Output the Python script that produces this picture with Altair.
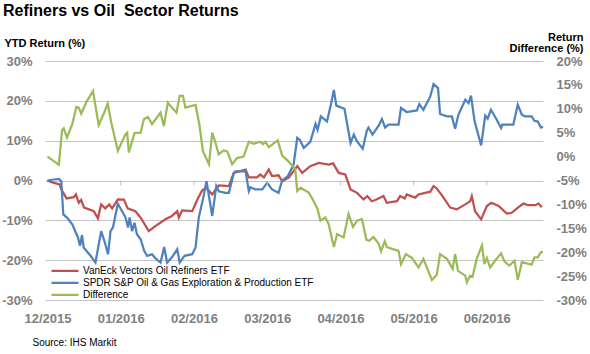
import altair as alt
import pandas as pd

# ---------------- data ----------------
series_names = [
    "VanEck Vectors Oil Refiners ETF",
    "SPDR S&P Oil & Gas Exploration & Production ETF",
    "Difference",
]
series_colors = ["#c0504d", "#4f81bd", "#9bbb59"]

# trading-day index positions of the axis labels
x_tick_idx = [0, 18, 36, 54, 72, 90, 108]
x_tick_labels = ["12/2015", "01/2016", "02/2016", "03/2016", "04/2016", "05/2016", "06/2016"]
x_tickmark_idx = [18, 36, 54, 72, 90, 108]

left_ticks = [-30, -20, -10, 0, 10, 20, 30]
right_ticks = [-30, -25, -20, -15, -10, -5, 0, 5, 10, 15, 20]

refiners_idx = [0, 1, 3, 3.4, 4.7, 6.5, 7, 7.7, 8.3, 9, 11.4, 12.4, 13.2, 14.2, 15.2, 15.9, 17.3, 18.8,
                19.7, 21.6, 22.9, 24.9, 26.6, 29, 30.6, 31.9, 32.3, 33.1, 35.6, 36.8, 38, 39, 40.5, 42.1,
                44.6, 45.8, 48.7, 49.5, 51.5, 52.3, 53.2, 54.4, 55.2, 56.8, 57.7, 59.3, 61.4, 62.6, 64.6,
                66.7, 69.1, 70.2, 71.6, 73.2, 74.5, 76.1, 77.7, 78.6, 79.7, 80.6, 82.6, 83.4, 85.9, 86.7,
                87.8, 88.3, 90.4, 91.2, 94.1, 94.9, 95.7, 97.1, 99, 100.6, 102.7, 103.9, 104.3, 105.1,
                106.6, 108, 109.1, 110.9, 112.9, 114.1, 115.8, 117, 118.2, 119.9, 120.7, 121.5]
refiners_val = [0, -0.4, -1, -2.2, -4.5, -4.2, -3.5, -5.6, -4.9, -6.8, -7.7, -9.5, -6, -7, -6, -7, -4.75, -4.8,
                -7, -7.7, -9.3, -12.7, -11.4, -9.75, -8.9, -7.7, -9.3, -7.5, -7.7, -4.9, -2.5, -1.8, -3.5, -1.25,
                -1.4, 1.9, 2.75, 0.8, 0.8, 1.5, 0.8, 2.75, 1.1, 1.3, -0.2, 0.7, 3.6, 1.9, 3.6,
                4.4, 4.0, 4.3, 1.9, 1.5, -2.25, -3.1, -4.75, -3.9, -5.2, -4.9, -3.9, -5.6, -5.2, -3.9,
                -4.5, -3.5, -4.3, -3.5, -2.8, -1.4, -2, -3.9, -6.8, -7.25, -6, -5.2, -3.9, -7.7,
                -9.75, -6.4, -5.6, -6.4, -8.3, -8.1, -6.7, -5.8, -6.2, -6.2, -5.8, -6.7]

spdr_idx = [0, 1.6, 2.8, 3.4, 3.9, 4.8, 6.1, 7.5, 8, 8.5, 8.9, 10.6, 11.8, 13.2, 14, 14.9, 15.5, 16.1, 17.3,
            19.2, 19.8, 20.2, 20.8, 21.4, 22, 22.9, 23.8, 24.5, 25.7, 26.5, 27.8, 28.7, 29.4, 30.6, 31.9,
            32.5, 33.7, 35.6, 36.4, 37.2, 38.3, 39.1, 40.5, 41.5, 42.1, 43.7, 44.6, 45.8, 46.2, 48.7, 49.5,
            49.9, 51.1, 52.8, 54, 55.2, 56.8, 57.7, 59.1, 60.5, 61.4, 62, 63, 64.6, 65.9, 66.4, 67.2, 68.7,
            69.7, 70.4, 71, 73, 74.5, 75.3, 76.1, 77.5, 78.5, 78.9, 79.9, 81.4, 82.2, 83, 83.8, 86.3, 86.9,
            88.3, 90.8, 91.4, 92.4, 94.1, 94.9, 96, 96.5, 98.2, 99.4, 100.2, 101, 102.7, 103.5, 104.1, 105,
            106.6, 107.6, 108.2, 109, 110.2, 111.5, 111.8, 114.5, 115.6, 116.6, 117.4, 119, 119.7, 120.5,
            121.3, 121.8]
spdr_val = [0, 0.25, 0.4, -0.2, -8.5, -9.3, -11, -14.3, -16.4, -13.7, -16.8, -18.9, -20.6, -12.7, -15.2, -18.5,
            -12.7, -11.8, -5.8, -9.3, -11.8, -9.3, -12.7, -10.6, -13.5, -14.75, -17.7, -18.9, -18.5, -19.5,
            -20.6, -16.7, -20.6, -19.3, -17.25, -20.6, -18.9, -18.5, -16.8, -9.3, -4.3, -0.2, -8.9, -1.4,
            -2.7, -3.1, -3.1, 1.9, 2.3, 2.3, -2.7, -1.7, -2.25, -2.25, -0.6, -2.25, -3.1, 0, 1.1, 4, 10.7,
            10.25, 8.2, 9.7, 14.2, 12.75, 16.1, 14.8, 19.2, 22.75, 18.8, 18, 9.4, 11.5, 9.8, 8, 12.5, 13.3,
            11.5, 13.75, 15.4, 13.3, 14, 14, 18.2, 17.2, 17.6, 19.2, 17.75, 21.1, 24.2, 23.2, 16.7, 16.1,
            16.1, 13, 16.5, 20.25, 19.4, 21.3, 14.8, 8.8, 16.3, 15.5, 17.75, 15.7, 13.2, 14, 14, 19, 16.5,
            16.1, 16.1, 15, 14.8, 13.3, 13.5]

diff_idx = [0, 2, 2.8, 3.6, 4, 4.8, 6.1, 7.1, 7.7, 8.3, 9.7, 11.2, 12.6, 13.8, 14.8, 15.7, 17.3, 19.2, 19.6,
            20, 21.4, 22.9, 23.7, 24.7, 25.7, 27.8, 28.6, 29.6, 30.6, 31.7, 32.5, 33.3, 33.9, 36.4, 37.4,
            38.2, 39.7, 40.5, 41.3, 42.1, 43.3, 44.2, 45.4, 46.6, 48.2, 49.5, 50.7, 52.3, 53, 53.6, 54.4,
            56.6, 57.7, 59.1, 60.9, 61.4, 62.2, 64.2, 65.4, 66.4, 67.1, 68.3, 69.1, 70.4, 71.2, 72.8, 74,
            75.1, 76.1, 77.3, 78.4, 79.1, 80.1, 81.4, 82, 82.9, 83.4, 84.7, 86.3, 86.9, 88.1, 89.6, 91.2,
            92.4, 94.5, 95.7, 96.5, 98.2, 99.6, 100.2, 100.9, 102.7, 103.1, 103.9, 104.5, 105.5, 106.8,
            107.4, 108, 108.8, 110, 111.5, 112.3, 113.5, 114.8, 115.6, 116.6, 119, 119.7, 120.5, 121.3, 121.8]
diff_val = [0, -1.2, -1.7, 5.5, 5.9, 4, 6.8, 10.4, 10.25, 9, 11.6, 13.7, 6.6, 8.9, 11.1, 7.1, 1.2, 4.7, 5,
            0.85, 4.9, 5, 7.8, 8.3, 6.8, 9.2, 6.4, 11.3, 10.25, 9.2, 12.7, 12.7, 10.25, 10.8, 6.4,
            1.2, -1.6, 5, 2.9, 0.5, 1.3, 1.1, -1.6, -0.3, 0, 3.1, 2.7, 3.1, 2.6, 3.1, 2,
            3.4, 0.2, -0.9, -2.6, -7.2, -6.5, -7.5, -9.25, -11, -13.4, -12.7, -14.1, -18.9, -16.2, -16.9, -12,
            -14.7, -13.4, -13.1, -17.4, -17.6, -16.8, -18.2, -19.8, -17.7, -18.9, -19.3, -19.7, -22.5, -20.4,
            -21.2, -23.2, -21.4, -25.8, -24.7, -20.4, -21.4, -23.5, -20.4, -23.9, -24.9, -26.3, -24.9, -25.1,
            -21.4, -18.6, -22.5, -21.2, -23.2, -21.8, -20.25, -21.9, -22.8, -21.8, -25.8, -22.1, -22.6,
            -21.1, -21.1, -20, -20]

# ---------------- tables ----------------
left_df = pd.concat([
    pd.DataFrame({"series": series_names[0], "idx": refiners_idx, "val": refiners_val}),
    pd.DataFrame({"series": series_names[1], "idx": spdr_idx, "val": spdr_val}),
], ignore_index=True)
right_df = pd.DataFrame({"series": series_names[2], "idx": diff_idx, "val": diff_val})
tick_df = pd.DataFrame({"idx": x_tickmark_idx})

FONT = "Liberation Sans"
GRAY = "#808080"
GRID = "#c4c4c4"
LABEL_SIZE = 13

label_expr = ("[" + ",".join("'%s'" % s for s in x_tick_labels) + "][indexof(["
              + ",".join(str(v) for v in x_tick_idx) + "], datum.value)]")

x_scale = alt.Scale(domain=[-0.6, 121.8], nice=False, zero=False)
x_axis = alt.Axis(values=x_tick_idx, labelExpr=label_expr, grid=False, domain=False, ticks=False,
                  labelFont=FONT, labelFontSize=LABEL_SIZE, labelFontWeight="bold", labelColor=GRAY,
                  labelPadding=12, labelFlush=False, labelOverlap=False,
                  title="Source: IHS Markit", titleX=-13, titleY=45, titleAlign="left",
                  titleBaseline="alphabetic", titleFont=FONT, titleFontSize=10,
                  titleFontWeight="normal", titleColor="#000000")

left_y_scale = alt.Scale(domain=[-30, 30], nice=False, zero=False)
left_y_axis = alt.Axis(values=left_ticks, labelExpr="datum.value + '%'", grid=True,
                       gridColor=GRID, gridWidth=1, domain=False, ticks=False,
                       labelFont=FONT, labelFontSize=LABEL_SIZE, labelFontWeight="bold",
                       labelColor=GRAY, labelPadding=13, labelOverlap=False, labelFlush=False,
                       labelBound=False,
                       title="YTD Return (%)", titleAngle=0, titleX=-41, titleY=-15,
                       titleAlign="left", titleBaseline="alphabetic", titleFont=FONT,
                       titleFontSize=11, titleFontWeight="bold", titleColor="#000000")

color_enc = alt.Color(
    "series:N",
    scale=alt.Scale(domain=series_names, range=series_colors),
    legend=alt.Legend(title=None, orient="none", legendX=5, legendY=204, direction="vertical",
                      symbolType="stroke", symbolStrokeWidth=2.25, symbolSize=729,
                      labelFont=FONT, labelFontSize=10, labelColor="#000000", labelOffset=3,
                      clipHeight=11.7, rowPadding=0, padding=0, labelLimit=400),
)

left_lines = alt.Chart(left_df).mark_line(strokeWidth=2.25).encode(
    x=alt.X("idx:Q", scale=x_scale, axis=x_axis),
    y=alt.Y("val:Q", scale=left_y_scale, axis=left_y_axis),
    color=color_enc,
    order="idx:Q",
)

tick_marks = alt.Chart(tick_df).transform_calculate(y0="0", y1="-1.25").mark_rule(
    color=GRID, strokeWidth=1
).encode(
    x=alt.X("idx:Q", scale=x_scale, axis=x_axis),
    y=alt.Y("y0:Q", scale=left_y_scale, axis=left_y_axis),
    y2="y1:Q",
)

right_lines = alt.Chart(right_df).mark_line(strokeWidth=2.25).encode(
    x=alt.X("idx:Q", scale=x_scale, axis=x_axis),
    y=alt.Y("val:Q", scale=alt.Scale(domain=[-30, 20], nice=False, zero=False),
            axis=alt.Axis(orient="right", values=right_ticks, labelExpr="datum.value + '%'",
                          grid=False, domain=False, ticks=False,
                          labelFont=FONT, labelFontSize=LABEL_SIZE, labelFontWeight="bold",
                          labelColor=GRAY, labelPadding=13, labelOverlap=False, labelFlush=False,
                          labelBound=False,
                          title=["Return", "Difference (%)"], titleAngle=0, titleX=40, titleY=-21,
                          titleAlign="right", titleBaseline="alphabetic", titleFont=FONT,
                          titleFontSize=11, titleFontWeight="bold", titleColor="#000000",
                          titleLineHeight=11)),
    color=color_enc,
    order="idx:Q",
)

left_layer = alt.layer(left_lines, tick_marks)

chart = alt.layer(left_layer, right_lines).resolve_scale(y="independent").properties(
    width=498,
    height=239,
    padding={"left": 45, "top": 61, "right": 47, "bottom": 54},
    autosize=alt.AutoSizeParams(type="none"),
    background="white",
    title=alt.TitleParams("Refiners vs Oil\u00a0 Sector Returns", anchor="start", frame="group",
                          dx=-42, dy=-12, font=FONT, fontSize=16, fontWeight="bold", color="#000000",
                          offset=0),
).configure_view(stroke=None)

chart.save("out.html", embed_options={"renderer": "svg", "actions": False})
